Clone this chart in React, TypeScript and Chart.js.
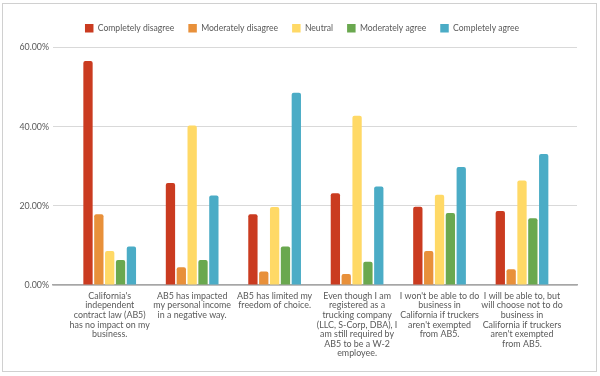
import React, { useEffect, useRef } from "react";
import { Chart, registerables } from "chart.js";

Chart.register(...registerables);

const categories: string[][] = [
  ["California's", "independent", "contract law (AB5)", "has no impact on my", "business."],
  ["AB5 has impacted", "my personal income", "in a negative way."],
  ["AB5 has limited my", "freedom of choice."],
  ["Even though I am", "registered as a", "trucking company", "(LLC, S-Corp, DBA), I", "am still required by", "AB5 to be a W-2", "employee."],
  ["I won't be able to do", "business in", "California if truckers", "aren't exempted", "from AB5."],
  ["I will be able to, but", "will choose not to do", "business in", "California if truckers", "aren't exempted", "from AB5."],
];

const seriesNames = ["Completely disagree", "Moderately disagree", "Neutral", "Moderately agree", "Completely agree"];
const completelyDisagree = [56.6, 25.8, 17.9, 23.2, 19.8, 18.7];
const moderatelyDisagree = [17.9, 4.5, 3.4, 2.8, 8.6, 4.0];
const neutral = [8.6, 40.3, 19.7, 42.8, 22.8, 26.4];
const moderatelyAgree = [6.3, 6.3, 9.7, 5.9, 18.2, 16.9];
const completelyAgree = [9.7, 22.6, 48.6, 24.9, 29.8, 33.1];
const seriesColors = ["#CA3B20", "#E8903A", "#FFD966", "#6AA84F", "#4BACC6"];
const yTicks = [0, 20, 40, 60];

const FONT = "Lato, 'Open Sans', sans-serif";

const legendPlacer = {
  id: "legendPlacer",
  beforeDraw(chart: any) {
    const l = chart.legend;
    if (!l) return;
    const w = l.right - l.left;
    const centerShift = 302 - (l.left + l.right) / 2;
    l.left = l.left + centerShift;
    l.right = l.left + w;
    l.top = 10;
  },
};

export default function App() {
  const ref = useRef<HTMLCanvasElement | null>(null);
  useEffect(() => {
    if (!ref.current) return;
    const values = [completelyDisagree, moderatelyDisagree, neutral, moderatelyAgree, completelyAgree];
    const chart = new Chart(ref.current, {
      type: "bar",
      data: {
        datasets: seriesNames.map((name, i) => ({
          label: name,
          data: values[i].map((v, j) => ({ x: j, y: v })),
          backgroundColor: seriesColors[i],
          borderRadius: { topLeft: 2, topRight: 2, bottomLeft: 0, bottomRight: 0 },
          borderSkipped: false,
          categoryPercentage: 0.658,
          barPercentage: 0.857,
        })),
      },
      plugins: [legendPlacer],
      options: {
        responsive: false,
        animation: false,
        maintainAspectRatio: false,
        layout: { padding: { top: 15, right: 23, bottom: 0, left: 0 } },
        plugins: {
          legend: {
            position: "top",
            labels: {
              boxWidth: 8.5,
              boxHeight: 8.5,
              padding: 14,
              color: "#595959",
              font: { family: FONT, size: 8.6 },
            },
          },
          tooltip: { enabled: false },
        },
        scales: {
          x: {
            type: "linear",
            offset: false,
            min: -0.6876,
            max: 5.667,
            afterBuildTicks: (s: any) => {
              s.ticks = categories.map((_, i) => ({ value: i }));
            },
            grid: { display: false, drawTicks: false, offset: false },
            border: { display: true, color: "#a6a6a6", width: 1.5 },
            ticks: {
              color: "#595959",
              font: { family: FONT, size: 8.9, lineHeight: 1.08 },
              maxRotation: 0,
              minRotation: 0,
              autoSkip: false,
              padding: 6,
              callback: (v: any) => categories[Math.round(Number(v))] ?? "",
            },
            afterFit: (s: any) => {
              s.height = 91;
            },
          },
          y: {
            min: 0,
            max: 60,
            afterBuildTicks: (s: any) => {
              s.ticks = yTicks.map((v) => ({ value: v }));
            },
            grid: { color: "#d9d9d9", drawTicks: false, lineWidth: 1 },
            border: { display: false },
            ticks: {
              color: "#595959",
              font: { family: FONT, size: 8.8 },
              padding: 4,
              callback: (v: any) => Number(v).toFixed(2) + "%",
            },
            afterFit: (s: any) => {
              s.width = 53;
            },
          },
        },
      },
    });
    return () => chart.destroy();
  }, []);

  return (
    <div style={{ position: "absolute", left: 0, top: 0, width: 600, height: 376, background: "#fff" }}>
      <div
        style={{
          position: "absolute",
          left: 2,
          top: 3,
          width: 593,
          height: 367,
          border: "1px solid #d0d0d0",
        }}
      />
      <canvas ref={ref} width={600} height={376} style={{ position: "absolute", left: 0, top: 0 }} />
    </div>
  );
}
